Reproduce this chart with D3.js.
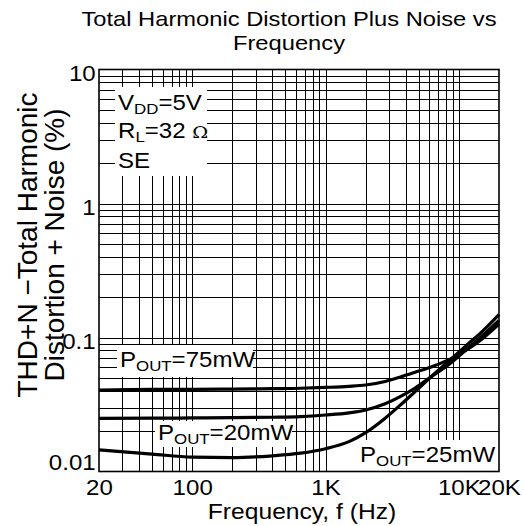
<!DOCTYPE html>
<html><head><meta charset="utf-8">
<script src="https://cdn.jsdelivr.net/npm/d3@7"></script>
<style>
body{margin:0;background:#fff}
svg{display:block}
text{font-family:"Liberation Sans",Arial,sans-serif;fill:#000}
</style>
</head><body>
<svg id="c" width="524" height="526"></svg>
<script>
// ---- data ----
const freqs = [20,50,100,200,400,650,1000,1500,2000,2800,3600,4700,6400,8600,11500,15000,20000];
const thd75 = [0.0405,0.041,0.041,0.0412,0.0415,0.0418,0.0424,0.0432,0.0442,0.047,0.0505,0.055,0.061,0.069,0.081,0.098,0.126];
const thd20 = [0.0249,0.025,0.0251,0.0252,0.0254,0.0257,0.0264,0.0274,0.0288,0.032,0.036,0.042,0.052,0.064,0.082,0.103,0.134];
const thd25 = [0.0145,0.0135,0.0128,0.0127,0.0131,0.0137,0.0148,0.0167,0.0195,0.025,0.031,0.0395,0.0525,0.068,0.088,0.111,0.148];
const seriesLabels = ["75mW","20mW","25mW"];
const xTickValues = [20,100,1000,10000,20000];
const xTickLabels = ["20","100","1K","10K","20K"];
const yTickValues = [0.01,0.1,1,10];
const yTickLabels = ["0.01","0.1","1","10"];
const titleLines = ["Total Harmonic Distortion Plus Noise vs","Frequency"];
const yTitleLines = ["THD+N \u2212Total Harmonic","Distortion + Noise (%)"];
const xTitle = "Frequency, f (Hz)";

// ---- layout ----
const L = 99, R = 499, T = 69.5, B = 471.5;
const SX = 1.12; // horizontal glyph stretch seen in the reference
const FS = 21.5;
const svg = d3.select("#c");
const x = d3.scaleLog().domain([20,20000]).range([L,R]);
const y = d3.scaleLog().domain([0.01,10]).range([B,T]);

// grid
const xGrid = [];
[10,100,1000,10000].forEach(d=>{for(let k=1;k<=9;k++){const v=k*d; if(v>20&&v<20000) xGrid.push(v);}});
const yGrid = [];
[0.01,0.1,1].forEach(d=>{for(let k=1;k<=9;k++){const v=+(k*d).toPrecision(3); if(v>0.01&&v<10) yGrid.push(v);}});
const grid = svg.append("g").attr("stroke","#000").attr("stroke-width",1);
grid.selectAll(".vx").data(xGrid).join("line")
  .attr("x1",d=>Math.round(x(d))+0.5).attr("x2",d=>Math.round(x(d))+0.5)
  .attr("y1",T).attr("y2",B);
grid.selectAll(".hy").data(yGrid).join("line")
  .attr("y1",d=>Math.round(y(d))+0.5).attr("y2",d=>Math.round(y(d))+0.5)
  .attr("x1",L).attr("x2",R);

// label helper with subscripts (stretched horizontally)
function richText(g, px, py, parts, size){
  const gg = g.append("g").attr("transform",`translate(${px},${py}) scale(${SX},1)`);
  const t = gg.append("text").attr("x",0).attr("y",0).attr("font-size",size);
  parts.forEach(p=>{
    if(p.sub){
      t.append("tspan").attr("font-size",size*0.7).attr("dy",size*0.18).text(p.t);
    } else if(p.omega){
      t.append("tspan").attr("font-size",size*0.8).attr("font-family","DejaVu Serif, serif").attr("dy",p.dy||0).text(p.t);
    } else {
      t.append("tspan").attr("dy",p.dy||0).text(p.t);
    }
  });
  return t;
}
const back = (g,x0,y0,x1,y1)=>g.append("rect").attr("x",x0).attr("y",y0).attr("width",x1-x0).attr("height",y1-y0).attr("fill","#fff");

// conditions box
{
  const g = svg.append("g");
  back(g,115,87,207,176);
  richText(g,118,110,[{t:"V"},{t:"DD",sub:true},{t:"=5V",dy:-FS*0.18}],FS);
  richText(g,118,138,[{t:"R"},{t:"L",sub:true},{t:"=32 ",dy:-FS*0.18},{t:"\u03A9",omega:true}],FS);
  richText(g,118,168,[{t:"SE"}],FS);
}

// series label boxes
const gl = svg.append("g");
back(gl,117,345,253,377);
richText(gl,120,367,[{t:"P"},{t:"OUT",sub:true},{t:"="+seriesLabels[0],dy:-FS*0.18}],FS);
back(gl,155,421,292,447);
richText(gl,158,440,[{t:"P"},{t:"OUT",sub:true},{t:"="+seriesLabels[1],dy:-FS*0.18}],FS);
back(gl,353,440,R,B);
richText(gl,360,462,[{t:"P"},{t:"OUT",sub:true},{t:"="+seriesLabels[2],dy:-FS*0.18}],FS);

// frame
svg.append("rect").attr("x",L).attr("y",T).attr("width",R-L).attr("height",B-T)
  .attr("fill","none").attr("stroke","#000").attr("stroke-width",1.6);

// series curves
const line = d3.line().x(d=>x(d[0])).y(d=>y(d[1])).curve(d3.curveMonotoneX);
[thd75,thd20,thd25].forEach((vals)=>{
  svg.append("path").datum(freqs.map((f,j)=>[f,vals[j]]))
    .attr("d",line).attr("fill","none").attr("stroke","#000").attr("stroke-width",3.2)
    .attr("stroke-linejoin","round");
});

// axes
const ax = svg.append("g").attr("transform",`translate(0,${B})`)
  .call(d3.axisBottom(x).tickValues(xTickValues).tickSize(0).tickPadding(8.5)
    .tickFormat((d,i)=>xTickLabels[i]));
ax.select(".domain").remove();
ax.selectAll("text").attr("font-size",FS).attr("font-family","Liberation Sans, Arial, sans-serif")
  .attr("fill","#000").attr("transform",`scale(${SX},1)`);
const ay = svg.append("g").attr("transform",`translate(${L},0)`)
  .call(d3.axisLeft(y).tickValues(yTickValues).tickSize(0).tickPadding(3)
    .tickFormat((d,i)=>yTickLabels[i]));
ay.select(".domain").remove();
ay.selectAll("text").attr("font-size",FS).attr("font-family","Liberation Sans, Arial, sans-serif")
  .attr("fill","#000").attr("transform",`scale(${SX},1)`)
  .attr("dy",(d,i)=> i===0 ? "-0.1em" : "0.5em");

// titles
svg.selectAll(".tt").data(titleLines).join("text")
  .attr("transform",(d,i)=>`translate(289,${26+i*23.5}) scale(${SX+0.01},1)`)
  .attr("text-anchor","middle").attr("font-size",21).text(d=>d);
svg.append("text").attr("transform",`translate(302,519) scale(${SX},1)`)
  .attr("text-anchor","middle").attr("font-size",FS+0.5).text(xTitle);
svg.selectAll(".yt").data(yTitleLines).join("text")
  .attr("transform",(d,i)=>`translate(${37+i*27},245) rotate(-90)`)
  .attr("text-anchor","middle").attr("font-size",28).text(d=>d);
</script>
</body></html>
